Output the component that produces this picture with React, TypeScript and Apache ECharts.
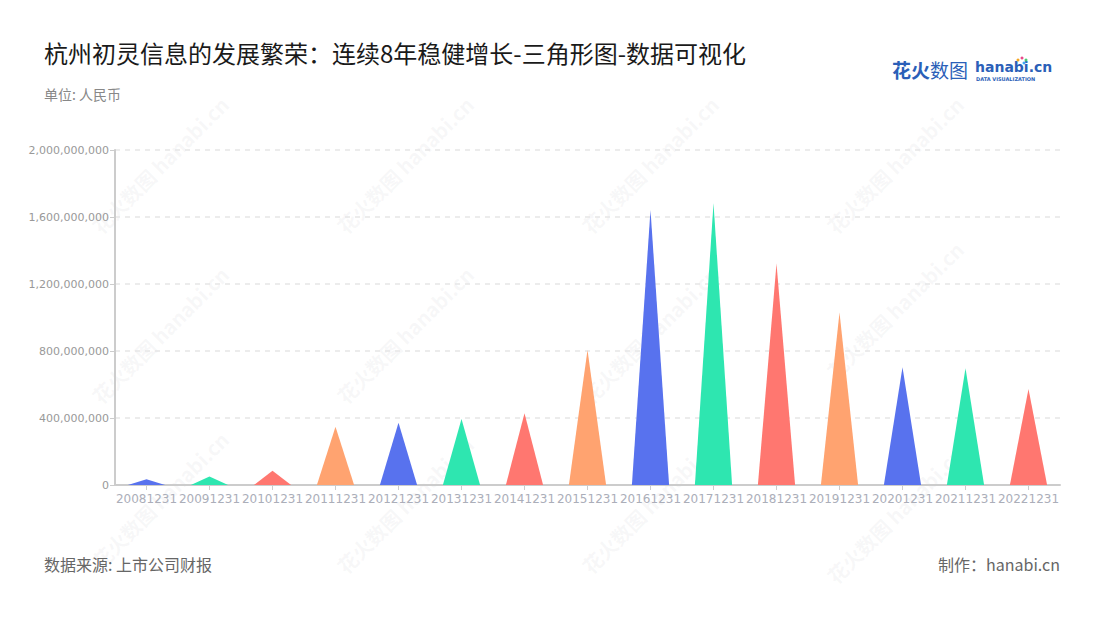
import React, { useEffect, useRef } from "react";
import * as echarts from "echarts";

const categories = [
  "20081231", "20091231", "20101231", "20111231", "20121231", "20131231", "20141231", "20151231",
  "20161231", "20171231", "20181231", "20191231", "20201231", "20211231", "20221231",
];
const values = [
  34000000, 50000000, 85000000, 348000000, 372000000, 394000000, 428000000, 806000000,
  1642000000, 1682000000, 1323000000, 1029000000, 703000000, 697000000, 573000000,
];
const palette = ["#5872EE", "#2EE6B0", "#FF7770", "#FFA370"];
const yTicks = [0, 400000000, 800000000, 1200000000, 1600000000, 2000000000];

const title = "杭州初灵信息的发展繁荣：连续8年稳健增长-三角形图-数据可视化";
const unitText = "单位: 人民币";
const sourceText = "数据来源: 上市公司财报";
const makerText = "制作：hanabi.cn";

const watermarkPos = [
  [160, 165], [405, 165], [650, 165], [895, 165],
  [160, 335], [405, 335], [650, 335], [895, 310],
  [160, 500], [405, 505], [650, 505], [895, 515],
];

export default function App() {
  const ref = useRef<HTMLDivElement>(null);
  useEffect(() => {
    const chart = echarts.init(ref.current!, null, { renderer: "svg" });
    const watermarks = watermarkPos.map(([x, y]) => ({
      type: "group",
      x,
      y,
      rotation: Math.PI / 4,
      silent: true,
      z: 0,
      children: [
        {
          type: "text",
          x: 0,
          y: 0,
          style: {
            text: "花火数图 hanabi.cn",
            fill: "rgba(180,180,190,0.10)",
            font: "bold 20px 'Noto Sans CJK SC', sans-serif",
            textAlign: "center",
            textVerticalAlign: "middle",
          },
        },
      ],
    }));
    chart.setOption({
      animation: false,
      backgroundColor: "#ffffff",
      grid: { left: 115, right: 40, top: 150, bottom: 135, containLabel: false },
      xAxis: {
        type: "category",
        data: categories,
        axisLine: { show: true, lineStyle: { color: "#cccccc", width: 2 } },
        axisTick: { show: true, alignWithLabel: true, length: 5, lineStyle: { color: "#cccccc" } },
        axisLabel: {
          color: "#abaeb9",
          fontSize: 12,
          fontFamily: "DejaVu Sans, sans-serif",
          interval: 0,
          margin: 8,
        },
      },
      yAxis: {
        type: "value",
        min: 0,
        max: 2000000000,
        interval: 400000000,
        axisLine: { show: true, lineStyle: { color: "#cccccc", width: 2 } },
        axisTick: { show: true, length: 5, lineStyle: { color: "#cccccc" } },
        axisLabel: {
          color: "#999999",
          fontSize: 11,
          fontFamily: "DejaVu Sans, sans-serif",
          margin: 6,
          formatter: (v: number) => (yTicks.includes(v) ? v.toLocaleString("en-US") : ""),
        },
        splitLine: { show: true, lineStyle: { color: "#e6e6e6", type: [5, 5], width: 1.5 } },
      },
      graphic: [
        ...watermarks,
        {
          type: "text",
          left: 44,
          top: 40,
          style: {
            text: title,
            fill: "#1a1a1a",
            font: "24px 'Noto Sans CJK SC', sans-serif",
          },
        },
        {
          type: "text",
          left: 44,
          top: 87,
          style: {
            text: unitText,
            fill: "#888888",
            font: "14px 'Noto Sans CJK SC', sans-serif",
          },
        },
        {
          type: "text",
          left: 44,
          top: 556,
          style: {
            text: sourceText,
            fill: "#666666",
            font: "16px 'Noto Sans CJK SC', sans-serif",
          },
        },
        {
          type: "text",
          right: 40,
          top: 556,
          style: {
            text: makerText,
            fill: "#666666",
            font: "16px 'Noto Sans CJK SC', sans-serif",
          },
        },
        {
          type: "text",
          left: 892,
          top: 60,
          style: {
            text: "花火",
            fill: "#2B5FB8",
            font: "bold 19px 'Noto Sans CJK SC', sans-serif",
          },
        },
        {
          type: "text",
          left: 930,
          top: 60,
          style: {
            text: "数图",
            fill: "#2B5FB8",
            font: "19px 'Noto Sans CJK SC', sans-serif",
          },
        },
        {
          type: "text",
          left: 975,
          top: 60,
          style: {
            text: "hanabi.cn",
            fill: "#2B5FB8",
            font: "bold 14px 'DejaVu Sans', sans-serif",
          },
        },
        {
          type: "text",
          left: 976,
          top: 76,
          style: {
            text: "DATA VISUALIZATION",
            fill: "#2B5FB8",
            font: "bold 5px 'DejaVu Sans', sans-serif",
          },
        },
        { type: "circle", shape: { cx: 1018, cy: 60, r: 1.5 }, style: { fill: "#F5A623" } },
        { type: "circle", shape: { cx: 1022, cy: 58, r: 1.5 }, style: { fill: "#E94B8A" } },
        { type: "circle", shape: { cx: 1026, cy: 60, r: 1.5 }, style: { fill: "#4ACB73" } },
        { type: "circle", shape: { cx: 1024, cy: 63, r: 1.5 }, style: { fill: "#3FA9F5" } },
      ],
      series: [
        {
          type: "pictorialBar",
          symbol: "path://M0,10 L5,0 L10,10 Z",
          symbolSize: [37, "100%"],
          barCategoryGap: "0%",
          z: 5,
          data: values.map((v, i) => ({
            value: v,
            itemStyle: { color: palette[i % palette.length] },
          })),
        },
      ],
    });
    return () => chart.dispose();
  }, []);
  return <div ref={ref} style={{ width: 1100, height: 620, margin: -8 }} />;
}
